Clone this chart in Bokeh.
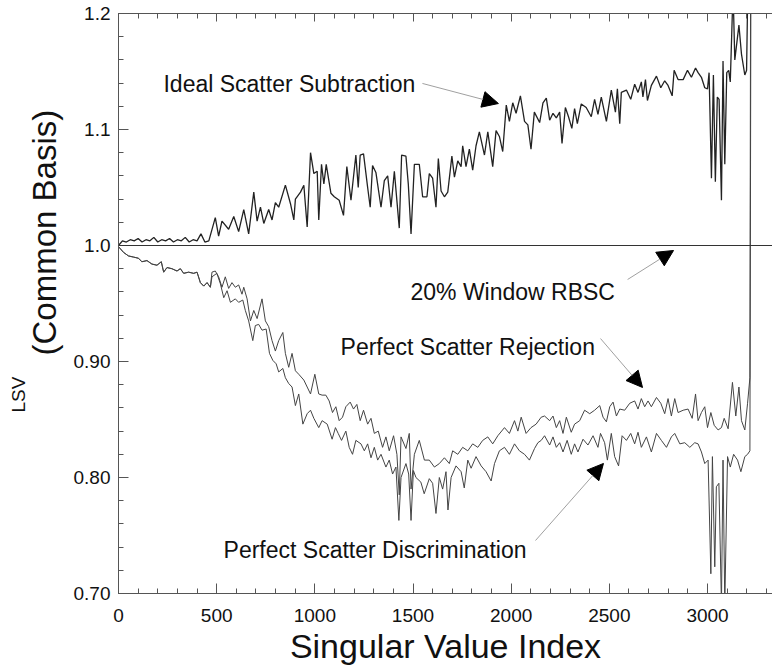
from bokeh.plotting import figure
from bokeh.models import Span, Label, Arrow, NormalHead, FixedTicker, LinearAxis, Range1d, Title
from bokeh.embed import file_html
from bokeh.resources import INLINE

FONT = "Liberation Sans"

# ---------------- data ----------------
x_ticks = [0, 500, 1000, 1500, 2000, 2500, 3000]
x_minor = list(range(0, 3400, 100))
y_ticks = [0.70, 0.80, 0.90, 1.0, 1.1, 1.2]
y_tick_labels = ["0.70", "0.80", "0.90", "1.0", "1.1", "1.2"]
y_minor = [round(0.70 + 0.02 * i, 2) for i in range(26)]

rbsc_level = 1.0  # 20% Window RBSC

ideal_pts = [
    (0, 1.000), (20, 1.004), (40, 1.003), (60, 1.005), (80, 1.004), (100, 1.006), (120, 1.003),
    (140, 1.005), (160, 1.004), (180, 1.007), (200, 1.003), (220, 1.005), (240, 1.004), (260, 1.006),
    (280, 1.003), (300, 1.005), (320, 1.004), (340, 1.007), (360, 1.003), (380, 1.005), (400, 1.004),
    (420, 1.010), (440, 1.003), (460, 1.004),
    (493, 1.024), (510, 1.008), (527, 1.021), (561, 1.014), (587, 1.025), (612, 1.012), (638, 1.031),
    (663, 1.010), (689, 1.046), (706, 1.021), (723, 1.033), (740, 1.019), (765, 1.031), (782, 1.022),
    (799, 1.037), (816, 1.033), (850, 1.052), (876, 1.036), (893, 1.022), (901, 1.040), (927, 1.046),
    (944, 1.052), (961, 1.016), (978, 1.080), (995, 1.062), (1012, 1.064), (1020, 1.022), (1034, 1.070),
    (1046, 1.053), (1058, 1.070), (1082, 1.045), (1099, 1.042), (1124, 1.039), (1146, 1.026),
    (1163, 1.068), (1184, 1.039), (1209, 1.078), (1221, 1.050), (1231, 1.078), (1248, 1.079),
    (1269, 1.050), (1282, 1.033), (1294, 1.069), (1311, 1.063), (1337, 1.033), (1354, 1.056),
    (1371, 1.060), (1388, 1.033), (1405, 1.064), (1430, 1.015), (1442, 1.078), (1464, 1.077),
    (1476, 1.053), (1490, 1.010), (1507, 1.070), (1532, 1.070), (1549, 1.042), (1571, 1.042),
    (1583, 1.062), (1600, 1.058), (1617, 1.033), (1629, 1.075), (1643, 1.047), (1660, 1.042),
    (1677, 1.046), (1698, 1.077), (1711, 1.059), (1728, 1.073), (1745, 1.068), (1753, 1.086),
    (1770, 1.068), (1787, 1.083), (1804, 1.065), (1821, 1.086), (1838, 1.098), (1864, 1.078),
    (1881, 1.098), (1906, 1.068), (1923, 1.099), (1940, 1.094), (1957, 1.081), (1975, 1.121),
    (1991, 1.107), (2008, 1.123), (2025, 1.114), (2047, 1.129), (2068, 1.107), (2085, 1.104),
    (2101, 1.083), (2118, 1.115), (2145, 1.106), (2162, 1.123), (2179, 1.127), (2196, 1.108),
    (2213, 1.114), (2230, 1.110), (2247, 1.115), (2259, 1.088), (2276, 1.119), (2292, 1.111),
    (2309, 1.101), (2323, 1.118), (2337, 1.105), (2357, 1.122), (2382, 1.119), (2408, 1.111),
    (2425, 1.126), (2442, 1.113), (2459, 1.128), (2485, 1.107), (2510, 1.134), (2531, 1.115),
    (2541, 1.135), (2553, 1.105), (2561, 1.132), (2587, 1.134), (2609, 1.126), (2629, 1.139),
    (2646, 1.132), (2663, 1.141), (2671, 1.128), (2684, 1.143), (2694, 1.125), (2714, 1.138),
    (2740, 1.146), (2762, 1.136), (2782, 1.142), (2799, 1.138), (2820, 1.129), (2830, 1.151),
    (2850, 1.143), (2876, 1.143), (2898, 1.151), (2918, 1.145), (2939, 1.153), (2952, 1.149),
    (2969, 1.145), (2986, 1.136), (3000, 1.135), (3008, 1.149), (3020, 1.058), (3030, 1.147),
    (3040, 1.055), (3050, 1.128), (3059, 1.126), (3071, 1.039), (3079, 1.159), (3088, 1.070),
    (3098, 1.149), (3108, 1.151), (3116, 1.141), (3130, 1.220), (3139, 1.160), (3160, 1.190),
    (3173, 1.165), (3190, 1.147), (3199, 1.151), (3212, 1.300),
]

common_start = [
    (0, 0.999), (26, 0.994), (51, 0.991), (77, 0.990), (102, 0.989), (119, 0.986), (145, 0.987),
    (170, 0.984), (196, 0.983), (218, 0.986), (230, 0.977), (247, 0.981), (272, 0.980), (298, 0.978),
    (315, 0.980), (332, 0.976), (357, 0.977), (383, 0.976), (400, 0.977), (417, 0.968), (434, 0.965),
    (451, 0.968), (468, 0.964),
]

rejection_pts = common_start + [
    (476, 0.977), (493, 0.978), (510, 0.973), (527, 0.964), (544, 0.973), (561, 0.963), (578, 0.968),
    (595, 0.964), (612, 0.966), (629, 0.958), (638, 0.964), (655, 0.954), (672, 0.935), (689, 0.944),
    (706, 0.937), (731, 0.954), (748, 0.935), (765, 0.930), (782, 0.918), (799, 0.909), (816, 0.918),
    (837, 0.925), (850, 0.907), (867, 0.895), (884, 0.907), (901, 0.892), (918, 0.889), (944, 0.884),
    (961, 0.878), (978, 0.872), (1000, 0.889), (1020, 0.872), (1037, 0.871), (1056, 0.871),
    (1073, 0.866), (1090, 0.856), (1107, 0.861), (1124, 0.849), (1141, 0.852), (1158, 0.861),
    (1180, 0.865), (1197, 0.859), (1214, 0.863), (1231, 0.849), (1248, 0.858), (1269, 0.846),
    (1286, 0.851), (1303, 0.838), (1323, 0.840), (1345, 0.826), (1362, 0.835), (1379, 0.823),
    (1401, 0.836), (1418, 0.820), (1430, 0.785), (1439, 0.835), (1464, 0.825), (1481, 0.838),
    (1490, 0.790), (1507, 0.820), (1532, 0.832), (1558, 0.815), (1583, 0.815), (1609, 0.809),
    (1634, 0.812), (1660, 0.817), (1685, 0.812), (1702, 0.823), (1728, 0.820), (1753, 0.826),
    (1779, 0.823), (1804, 0.829), (1830, 0.826), (1855, 0.832), (1881, 0.835), (1906, 0.829),
    (1932, 0.836), (1966, 0.843), (1991, 0.838), (2017, 0.849), (2034, 0.840), (2051, 0.852),
    (2076, 0.838), (2101, 0.843), (2127, 0.846), (2153, 0.852), (2170, 0.853), (2196, 0.849),
    (2213, 0.853), (2230, 0.843), (2247, 0.849), (2264, 0.838), (2281, 0.852), (2306, 0.839),
    (2323, 0.846), (2349, 0.849), (2374, 0.858), (2400, 0.855), (2425, 0.858), (2451, 0.862),
    (2468, 0.852), (2485, 0.848), (2502, 0.861), (2519, 0.865), (2536, 0.853), (2553, 0.859),
    (2578, 0.858), (2604, 0.864), (2629, 0.866), (2646, 0.859), (2663, 0.868), (2680, 0.861),
    (2697, 0.866), (2714, 0.861), (2740, 0.869), (2762, 0.864), (2782, 0.855), (2799, 0.868),
    (2816, 0.853), (2833, 0.868), (2850, 0.856), (2876, 0.858), (2901, 0.859), (2922, 0.851),
    (2939, 0.872), (2952, 0.849), (2969, 0.856), (2986, 0.861), (3000, 0.843), (3017, 0.856),
    (3034, 0.845), (3054, 0.841), (3071, 0.843), (3085, 0.851), (3105, 0.842), (3127, 0.882),
    (3144, 0.853), (3160, 0.878), (3173, 0.849), (3190, 0.841), (3204, 0.864), (3216, 0.886),
    (3220, 1.300),
]

discrimination_pts = common_start + [
    (476, 0.973), (501, 0.976), (519, 0.967), (536, 0.955), (553, 0.961), (570, 0.951), (595, 0.954),
    (612, 0.951), (633, 0.953), (646, 0.944), (663, 0.935), (684, 0.918), (697, 0.931), (714, 0.932),
    (731, 0.927), (752, 0.928), (769, 0.907), (786, 0.901), (803, 0.898), (816, 0.891), (837, 0.894),
    (850, 0.886), (867, 0.881), (884, 0.878), (901, 0.862), (918, 0.872), (939, 0.846), (961, 0.855),
    (978, 0.858), (995, 0.851), (1020, 0.843), (1037, 0.849), (1063, 0.846), (1088, 0.833),
    (1105, 0.843), (1119, 0.838), (1136, 0.832), (1158, 0.840), (1175, 0.826), (1192, 0.820),
    (1209, 0.832), (1235, 0.829), (1252, 0.823), (1269, 0.829), (1286, 0.817), (1303, 0.826),
    (1320, 0.815), (1337, 0.820), (1362, 0.809), (1379, 0.815), (1396, 0.803), (1413, 0.809),
    (1428, 0.763), (1439, 0.800), (1464, 0.812), (1478, 0.803), (1490, 0.763), (1502, 0.806),
    (1515, 0.800), (1540, 0.796), (1557, 0.786), (1583, 0.799), (1600, 0.795), (1617, 0.769),
    (1634, 0.800), (1651, 0.790), (1668, 0.805), (1678, 0.772), (1694, 0.800), (1719, 0.810),
    (1745, 0.805), (1761, 0.791), (1779, 0.815), (1796, 0.808), (1821, 0.818), (1847, 0.810),
    (1872, 0.805), (1898, 0.797), (1915, 0.812), (1940, 0.823), (1966, 0.826), (1991, 0.820),
    (2017, 0.829), (2042, 0.823), (2068, 0.820), (2093, 0.815), (2119, 0.825), (2136, 0.830),
    (2153, 0.832), (2170, 0.836), (2196, 0.828), (2213, 0.835), (2230, 0.826), (2247, 0.830),
    (2264, 0.822), (2285, 0.832), (2306, 0.820), (2323, 0.829), (2340, 0.822), (2366, 0.833),
    (2391, 0.828), (2417, 0.836), (2442, 0.826), (2455, 0.838), (2476, 0.830), (2490, 0.815),
    (2510, 0.838), (2527, 0.818), (2547, 0.810), (2565, 0.836), (2587, 0.832), (2609, 0.838),
    (2629, 0.829), (2646, 0.839), (2663, 0.826), (2689, 0.835), (2714, 0.822), (2740, 0.838),
    (2765, 0.832), (2791, 0.826), (2816, 0.835), (2833, 0.838), (2859, 0.829), (2884, 0.830),
    (2910, 0.826), (2935, 0.830), (2952, 0.829), (2969, 0.822), (2986, 0.812), (3003, 0.815),
    (3017, 0.717), (3025, 0.818), (3037, 0.723), (3045, 0.792), (3058, 0.795), (3071, 0.690),
    (3079, 0.815), (3088, 0.690), (3102, 0.818), (3116, 0.809), (3133, 0.820), (3153, 0.815),
    (3170, 0.805), (3190, 0.818), (3204, 0.820), (3216, 0.823), (3222, 1.300),
]

ideal_x, ideal_y = [p[0] for p in ideal_pts], [p[1] for p in ideal_pts]
rej_x, rej_y = [p[0] for p in rejection_pts], [p[1] for p in rejection_pts]
dis_x, dis_y = [p[0] for p in discrimination_pts], [p[1] for p in discrimination_pts]

# ---------------- figure ----------------
p = figure(width=772, height=671, x_range=Range1d(0, 3331), y_range=Range1d(0.70, 1.2),
           output_backend="svg", toolbar_location=None,
           min_border_left=118, min_border_right=0, min_border_top=13, min_border_bottom=78,
           outline_line_color=None, background_fill_color="white", border_fill_color="white")
p.xgrid.visible = False
p.ygrid.visible = False

AX = "#555555"

def style_axis(ax, major_in, minor_in):
    ax.axis_line_color = AX
    ax.major_tick_line_color = AX
    ax.minor_tick_line_color = AX
    ax.major_tick_in = major_in
    ax.major_tick_out = 0
    ax.minor_tick_in = minor_in
    ax.minor_tick_out = 0
    ax.major_label_text_font = FONT
    ax.major_label_text_color = "#111111"

bottom = p.xaxis[0]
bottom.ticker = FixedTicker(ticks=x_ticks, minor_ticks=x_minor)
style_axis(bottom, 10, 5)
bottom.major_label_text_font_size = "19px"
bottom.major_label_standoff = 15
bottom.axis_label = "Singular Value Index"
bottom.axis_label_text_font = FONT
bottom.axis_label_text_font_size = "34px"
bottom.axis_label_text_font_style = "normal"
bottom.axis_label_text_color = "#111111"
bottom.axis_label_standoff = 2

left = p.yaxis[0]
left.ticker = FixedTicker(ticks=y_ticks, minor_ticks=y_minor)
left.major_label_overrides = {t: lab for t, lab in zip(y_ticks, y_tick_labels)}
style_axis(left, 10, 5)
left.major_label_text_font_size = "19px"
left.major_label_standoff = 8

top = LinearAxis(ticker=FixedTicker(ticks=x_ticks, minor_ticks=x_minor))
style_axis(top, 8, 5)
top.major_label_overrides = {t: "" for t in x_ticks}
top.major_label_text_font_size = "1px"
top.major_label_standoff = 0
p.add_layout(top, "above")

# y-axis titles (two sizes), stacked in the left panel
t_basis = Title(text="(Common Basis)", align="left", offset=238, standoff=11, vertical_align="top",
                text_font=FONT, text_font_size="33px", text_font_style="normal", text_color="#111111")
p.add_layout(t_basis, "left")
t_lsv = Title(text="LSV", align="left", offset=181, standoff=-25, vertical_align="top",
              text_font=FONT, text_font_size="19px", text_font_style="normal", text_color="#111111")
p.add_layout(t_lsv, "left")

# ---------------- series ----------------
p.add_layout(Span(location=rbsc_level, dimension="width", line_color="#333333", line_width=1.2))
p.line(dis_x, dis_y, line_color="#444444", line_width=1.0)
p.line(rej_x, rej_y, line_color="#444444", line_width=1.0)
p.line(ideal_x, ideal_y, line_color="#222222", line_width=1.3)

# ---------------- annotations ----------------
def add_text(x, y, txt, size="23px"):
    p.add_layout(Label(x=x, y=y, text=txt, text_font=FONT, text_font_size=size,
                       text_color="#111111", text_align="left", text_baseline="alphabetic"))

add_text(229, 1.1388, "Ideal Scatter Subtraction")
add_text(1487, 0.9595, "20% Window RBSC")
add_text(1131, 0.9121, "Perfect Scatter Rejection")
add_text(535, 0.7371, "Perfect Scatter Discrimination")

for xs, ys, xe, ye in [(1548, 1.1397, 1935, 1.1224),
                       (2593, 0.9707, 2827, 0.9957),
                       (2455, 0.9198, 2669, 0.8776),
                       (2124, 0.7457, 2470, 0.8121)]:
    p.add_layout(Arrow(x_start=xs, y_start=ys, x_end=xe, y_end=ye, line_color="#a0a0a0", line_width=1,
                       end=NormalHead(size=16, fill_color="black", line_color="black")))

open("out.html", "w").write(file_html(p, INLINE))
